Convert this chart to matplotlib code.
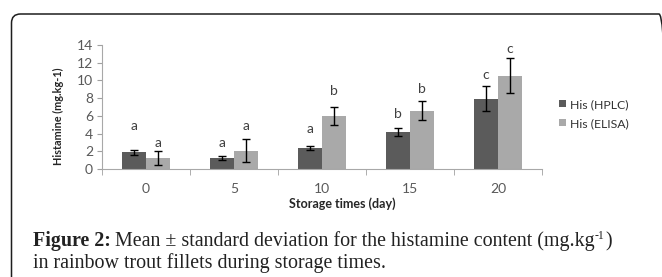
import matplotlib.pyplot as plt
import numpy as np
from matplotlib.patches import FancyBboxPatch

days = ['0', '5', '10', '15', '20']
hplc = [1.9, 1.25, 2.35, 4.15, 7.95]
hplc_sd = [0.3, 0.25, 0.25, 0.45, 1.4]
elisa = [1.2, 2.05, 6.0, 6.6, 10.55]
elisa_sd = [0.8, 1.3, 1.05, 1.05, 2.0]
hplc_letters = ['a', 'a', 'a', 'b', 'c']
hplc_letter_y = [4.8, 2.9, 4.5, 6.2, 10.6]
elisa_letters = ['a', 'a', 'b', 'b', 'c']
elisa_letter_y = [2.9, 4.85, 8.8, 9.0, 13.6]

plt.rcParams['font.family'] = 'Lato'

W, H = 662, 277
fig = plt.figure(figsize=(W / 100, H / 100), dpi=100)

# rounded frame around the figure panel
frame = FancyBboxPatch((11.5 / W, -0.2), (668 - 11.5) / W, 1.2 - 14 / H,
                       boxstyle='round,pad=0,rounding_size=%f' % (9 / W),
                       mutation_aspect=W / H, transform=fig.transFigure,
                       fill=False, edgecolor='#1e1e1e', linewidth=1.1)
fig.patches.append(frame)

ax = fig.add_axes([102 / W, 1 - 169 / H, 440 / W, 124 / H])
x = np.arange(len(days))
w = 0.275
dark = '#5b5b5b'
light = '#a9a9a9'
err = dict(ecolor='black', elinewidth=1.0, capsize=2.6, capthick=1.0)
ax.bar(x - w / 2, hplc, w, yerr=hplc_sd, color=dark, label='His (HPLC)', error_kw=err)
ax.bar(x + w / 2, elisa, w, yerr=elisa_sd, color=light, label='His (ELISA)', error_kw=err)

for i in range(len(days)):
    ax.text(x[i] - w / 2, hplc_letter_y[i], hplc_letters[i], ha='center', va='center',
            fontsize=10, color='#404040')
    ax.text(x[i] + w / 2, elisa_letter_y[i], elisa_letters[i], ha='center', va='center',
            fontsize=10, color='#404040')

ax.set_xlim(-0.5, 4.5)
ax.set_ylim(0, 14)
ax.set_yticks(range(0, 15, 2))
ax.set_xticks(x)
ax.set_xticklabels(days)
ax.set_xticks(np.arange(-0.5, 5, 1), minor=True)
ax.tick_params(axis='x', which='major', length=0, pad=10, labelsize=10, labelcolor='#595959')
ax.tick_params(axis='x', which='minor', length=4, color='#a0a0a0', direction='out')
ax.tick_params(axis='y', length=3.5, color='#a0a0a0', pad=3, labelsize=10, labelcolor='#595959')
for s in ['top', 'right']:
    ax.spines[s].set_visible(False)
for s in ['left', 'bottom']:
    ax.spines[s].set_color('#a8a8a8')
    ax.spines[s].set_linewidth(0.8)

fig.text(342 / W, 1 - 204 / H, 'Storage times (day)', ha='center', va='center',
         fontsize=9, fontweight='bold', color='#262626')
fig.text(58 / W, 1 - 116 / H, 'Histamine (mg.kg-1)', ha='center', va='center',
         rotation=90, fontsize=7.8, fontweight='bold', color='#262626')

fig.legend(loc='center left', bbox_to_anchor=(559 / W, 1 - 114 / H), frameon=False,
           fontsize=8.8, handlelength=0.55, handleheight=0.55, handletextpad=0.35,
           labelspacing=0.65, labelcolor='#333333', borderpad=0, borderaxespad=0)

# caption
y1 = 1 - 246 / H
cap_font = dict(family='Liberation Serif', fontsize=14.4, color='#222222', va='baseline')
t1 = fig.text(33 / W, y1, 'Figure 2:', fontweight='bold', **cap_font)
fig.canvas.draw()
bb = t1.get_window_extent()
t2 = fig.text((bb.x1 + 4) / W, y1,
              'Mean ± standard deviation for the histamine content (mg.kg', **cap_font)
fig.canvas.draw()
bb = t2.get_window_extent()
t3 = fig.text((bb.x1 + 0.5) / W, y1 + 7 / H, '-1', family='Liberation Serif',
              fontsize=8.5, color='#222222', va='baseline')
fig.canvas.draw()
bb = t3.get_window_extent()
fig.text((bb.x1 + 0.5) / W, y1, ')', **cap_font)
fig.text(33 / W, 1 - 268 / H, 'in rainbow trout fillets during storage times.', **cap_font)

fig.savefig('out.png', dpi=100)
